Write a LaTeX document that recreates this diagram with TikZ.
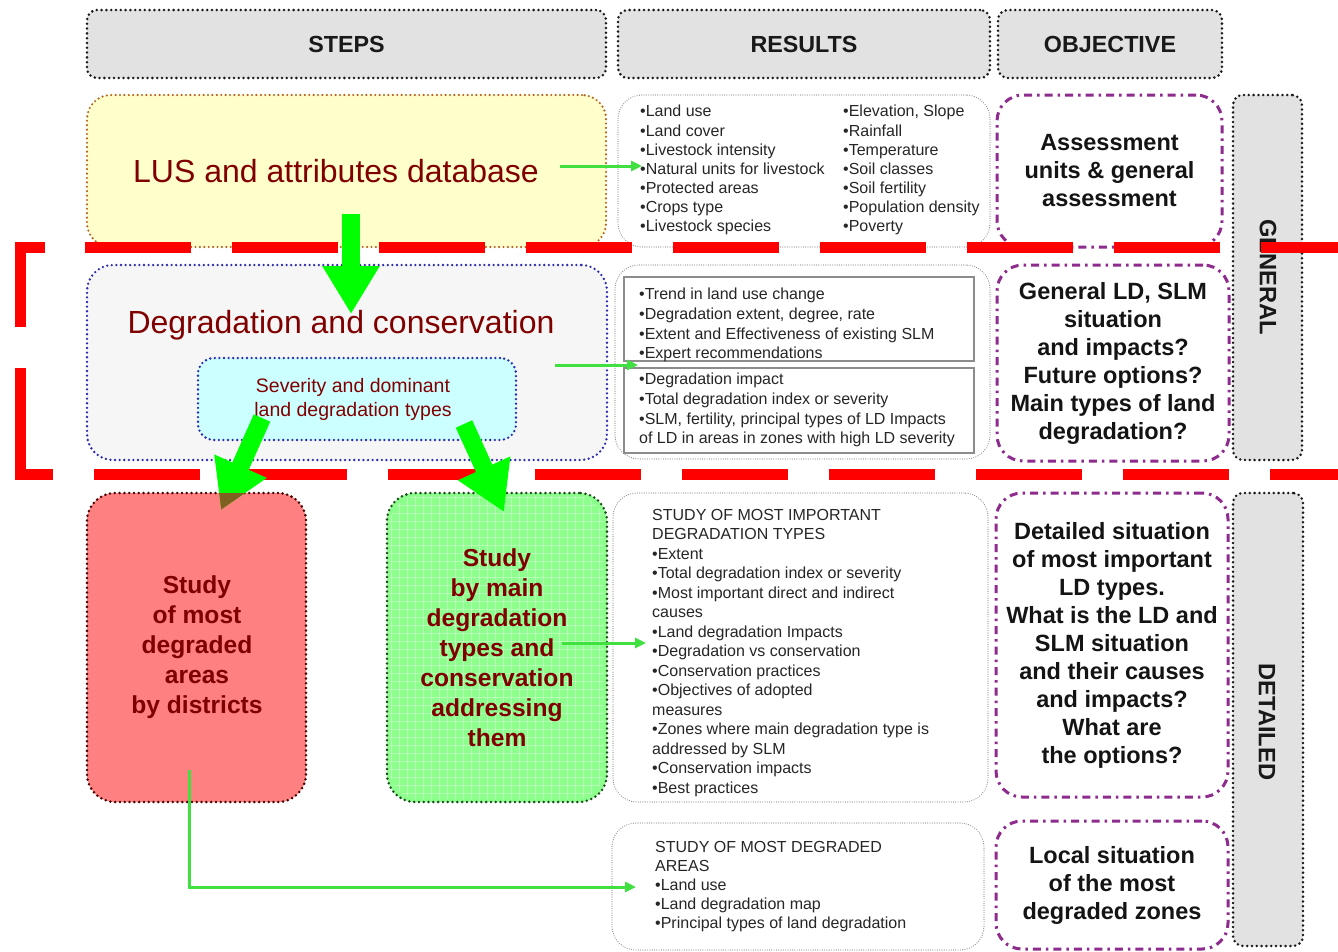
\documentclass[tikz,border=0pt]{standalone}
\usepackage{fontspec}
\setmainfont{Liberation Sans}
\usetikzlibrary{arrows.meta}
\definecolor{hdrgray}{HTML}{E2E2E2}
\definecolor{lusfill}{HTML}{FFFFCC}
\definecolor{lusborder}{HTML}{B5651D}
\definecolor{degfill}{HTML}{F6F6F6}
\definecolor{degborder}{HTML}{2B2BB0}
\definecolor{sevfill}{HTML}{CCFFFF}
\definecolor{txtred}{HTML}{800000}
\definecolor{redboxfill}{HTML}{FF8080}
\definecolor{redboxborder}{HTML}{4A0000}
\definecolor{greenboxfill}{HTML}{8CFF8C}
\definecolor{greenboxborder}{HTML}{1E4A1E}
\definecolor{cBig}{HTML}{00FF00}
\definecolor{cThin}{HTML}{3FE03F}
\definecolor{cOliveTip}{HTML}{806020}
\definecolor{objpurple}{HTML}{8E2C8E}
\definecolor{resgray}{HTML}{8C8C8C}
\definecolor{cRedDash}{HTML}{FF0000}
\tikzset{
  dotb/.style={line width=2.8pt, dash pattern=on 0pt off 4.8pt, line cap=round},
  hdrbox/.style={draw=black!90, fill=hdrgray, dotb, rounded corners=10pt, inner sep=0pt, outer sep=0pt,
    font=\fontsize{23.3}{28}\selectfont\bfseries, text=black!90},
  sidebox/.style={draw=black!90, fill=hdrgray, dotb, rounded corners=10pt, inner sep=0pt, outer sep=0pt},
  sidetext/.style={font=\fontsize{23.7}{28}\selectfont\bfseries, text=black!90, inner sep=0pt, rotate=-90},
  lusbox/.style={draw=lusborder, fill=lusfill, line width=2.4pt, dash pattern=on 0pt off 4.4pt, line cap=round,
    rounded corners=24pt, inner sep=0pt, outer sep=0pt},
  degbox/.style={draw=degborder, fill=degfill, line width=2.6pt, dash pattern=on 0pt off 4.6pt, line cap=round,
    rounded corners=26pt, inner sep=0pt, outer sep=0pt},
  sevbox/.style={draw=degborder, fill=sevfill, line width=2.6pt, dash pattern=on 0pt off 4.6pt, line cap=round,
    rounded corners=16pt, inner sep=0pt, outer sep=0pt},
  bigtext/.style={font=\fontsize{32}{38}\selectfont, text=txtred, inner sep=0pt},
  sevtext/.style={font=\fontsize{19.5}{24.5}\selectfont, text=txtred, inner sep=0pt, align=center},
  stepbox/.style={line width=2.8pt, dash pattern=on 0pt off 4.8pt, line cap=round,
    rounded corners=28pt, inner sep=0pt, outer sep=0pt},
  steptext/.style={font=\fontsize{24.6}{30}\selectfont\bfseries, text=txtred, inner sep=0pt, align=center},
  resbox/.style={draw=resgray, fill=white, line width=1.2pt, dash pattern=on 0pt off 2.3pt, line cap=round,
    rounded corners=24pt, inner sep=0pt, outer sep=0pt},
  resinner/.style={draw=resgray, line width=1.2pt},
  restext/.style={anchor=north west, inner sep=0pt, align=left, text=black!85},
  objbox/.style={draw=objpurple, fill=white, line width=3pt, dash pattern=on 8pt off 5pt on 2.5pt off 5pt,
    rounded corners=26pt, inner sep=0pt, outer sep=0pt, align=center,
    font=\fontsize{23.5}{28}\selectfont\bfseries, text=black!92},
  bigarr/.style={draw=cBig, line width=18pt, -{Triangle[length=48pt,width=54pt]}},
  thinarr/.style={draw=cThin, line width=3pt, -{Triangle[length=11pt,width=10pt]}},
  reddash/.style={draw=cRedDash, line width=11pt, dash pattern=on 106pt off 41pt},
  redsolid/.style={draw=cRedDash, line width=11pt, line join=miter},
}
\begin{document}
\begin{tikzpicture}[x=1pt,y=-1pt]
\useasboundingbox (0,0) rectangle (1338,951);
\fill[white] (0,0) rectangle (1338,951);

% headers
\node[hdrbox, minimum width=519, minimum height=68] (hsteps) at (346.5,44) {STEPS};
\node[hdrbox, minimum width=372, minimum height=68] (hres) at (804,44) {RESULTS};
\node[hdrbox, minimum width=224, minimum height=68] (hobj) at (1110,44) {OBJECTIVE};

% side boxes
\node[sidebox, minimum width=69, minimum height=365] (gen) at (1267.5,277.5) {};
\node[sidetext] (gentext) at (1268,277) {GENERAL};
\node[sidebox, minimum width=70, minimum height=453] (det) at (1268,719.5) {};
\node[sidetext] (dettext) at (1267,722) {DETAILED};

% row 1
\node[lusbox, minimum width=519, minimum height=152] (lus) at (346.5,171) {};
\node[bigtext] (lustext) at (336,171) {LUS and attributes database};
\node[resbox, minimum width=372, minimum height=152] (res1) at (804,171) {};
\node[restext, font=\fontsize{16}{19.2}\selectfont] (res1a) at (640,105)
  {•Land use\\•Land cover\\•Livestock intensity\\•Natural units for livestock\\•Protected areas\\•Crops type\\•Livestock species};
\node[restext, font=\fontsize{16}{19.2}\selectfont] (res1b) at (843,105)
  {•Elevation, Slope\\•Rainfall\\•Temperature\\•Soil classes\\•Soil fertility\\•Population density\\•Poverty};
\node[objbox, minimum width=225, minimum height=152] (obj1) at (1109.5,171)
  {Assessment\\units \& general\\assessment};

% row 2
\node[degbox, minimum width=520, minimum height=195] (deg) at (347,362.5) {};
\node[bigtext] (degtext) at (341,325) {Degradation and conservation};
\node[sevbox, minimum width=318, minimum height=82] (sev) at (357,399) {};
\node[sevtext] (sevtxt) at (353,399.5) {Severity and dominant\\land degradation types};
\node[resbox, minimum width=375, minimum height=194] (res2) at (802.5,362) {};
\draw[resinner] (624,277) rectangle (974,361);
\draw[resinner] (624,368) rectangle (974,453);
\node[restext, font=\fontsize{16}{19.7}\selectfont] (res2a) at (639,288)
  {•Trend in land use change\\•Degradation extent, degree, rate\\•Extent and Effectiveness of existing SLM\\•Expert recommendations};
\node[restext, font=\fontsize{16}{19.7}\selectfont] (res2b) at (639,373)
  {•Degradation impact\\•Total degradation index or severity\\•SLM, fertility, principal types of LD Impacts\\of LD in areas in zones with high LD severity};
\node[objbox, minimum width=232, minimum height=196] (obj2) at (1113,363)
  {General LD, SLM\\situation\\and impacts?\\Future options?\\Main types of land\\degradation?};

% row 3
\node[stepbox, draw=redboxborder, fill=redboxfill, minimum width=219, minimum height=309] (redb) at (196.5,647.5) {};
\node[stepbox, draw=greenboxborder, fill=greenboxfill, minimum width=220, minimum height=309] (greenb) at (497,647.5) {};
\begin{scope}
  \clip[rounded corners=28pt] (390,496) rectangle (604,799);
  \foreach \gx in {391,399,...,607} {\draw[white, opacity=0.35, line width=0.8pt] (\gx,493) -- (\gx,802);}
  \foreach \gy in {497,505,...,802} {\draw[white, opacity=0.35, line width=0.8pt] (387,\gy) -- (607,\gy);}
\end{scope}
\node[steptext] (redtxt) at (197,647) {Study\\of most\\degraded\\areas\\by districts};
\node[steptext] (greentxt) at (497,647.5) {Study\\by main\\degradation\\types and\\conservation\\addressing\\them};
\node[resbox, minimum width=375, minimum height=309] (res3) at (800.5,647.5) {};
\node[restext, font=\fontsize{16}{19.5}\selectfont] (res3a) at (652,509)
  {STUDY OF MOST IMPORTANT\\DEGRADATION TYPES\\•Extent\\•Total degradation index or severity\\•Most important direct and indirect\\causes\\•Land degradation Impacts\\•Degradation vs conservation\\•Conservation practices\\•Objectives of adopted\\measures\\•Zones where main degradation type is\\addressed by SLM\\•Conservation impacts\\•Best practices};
\node[objbox, minimum width=232, minimum height=304] (obj3) at (1112,645)
  {Detailed situation\\of most important\\LD types.\\What is the LD and\\SLM situation\\and their causes\\and impacts?\\What are\\the options?};

% row 4
\node[resbox, minimum width=372, minimum height=127] (res4) at (798,886.5) {};
\node[restext, font=\fontsize{16}{19}\selectfont] (res4a) at (655,841)
  {STUDY OF MOST DEGRADED\\AREAS\\•Land use\\•Land degradation map\\•Principal types of land degradation};
\node[objbox, minimum width=232, minimum height=128] (obj4) at (1112,885)
  {Local situation\\of the most\\degraded zones};

% thin connectors
\coordinate (tA1) at (560,166); \coordinate (tA2) at (642,166);
\draw[thinarr] (tA1) -- (tA2);
\coordinate (tB1) at (555,365); \coordinate (tB2) at (638,365);
\draw[thinarr] (tB1) -- (tB2);
\coordinate (tC1) at (562,643); \coordinate (tC2) at (646,643);
\draw[thinarr] (tC1) -- (tC2);
\coordinate (tD1) at (189,770); \coordinate (tD2) at (636,887);
\draw[thinarr] (tD1) |- (tD2);

% red dashed frame
\draw[reddash] (85,247.5) -- (1338,247.5);
\draw[reddash] (94,474) -- (1338,474);
\draw[redsolid] (45,247.5) -- (20,247.5) -- (20,327);
\draw[redsolid] (20,368) -- (20,474) -- (53,474);

% big green arrows
\coordinate (a1s) at (351,214); \coordinate (a1e) at (351,314);
\draw[bigarr] (a1s) -- (a1e);
\coordinate (a2s) at (262,418); \coordinate (a2e) at (221,510);
\draw[bigarr] (a2s) -- (a2e);
\coordinate (a3s) at (464,424); \coordinate (a3e) at (504,512);
\draw[bigarr] (a3s) -- (a3e);
\begin{scope}
  \clip[rounded corners=28pt] (87,493) rectangle (306,802);
  \draw[bigarr, draw=cOliveTip] (a2s) -- (a2e);
\end{scope}
\end{tikzpicture}
\end{document}
